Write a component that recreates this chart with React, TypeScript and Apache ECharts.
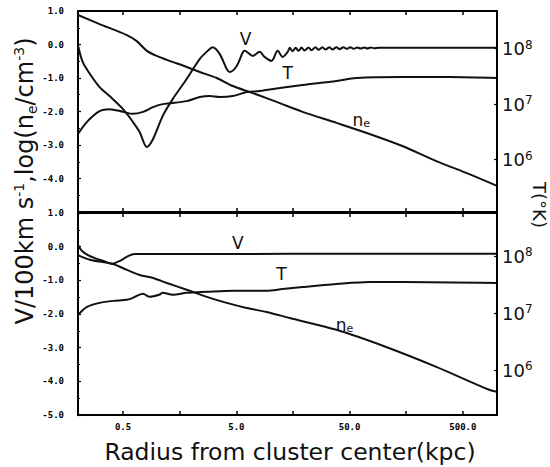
import React, { useEffect, useRef } from "react";
import * as echarts from "echarts";

// ---- axis definitions ----
const radiusRange = [0.2, 1000];
const radiusLabels = [0.5, 5, 50, 500];
const radiusTicks = [0.5, 1.58, 5, 15.8, 50, 158, 500];
const leftRange = [-5, 1];
const tempLogTicks = [6, 7, 8];
const tempLogRangeTop = [5.054, 8.676];
const tempLogRangeBottom = [5.216, 8.758];

// ---- top panel ----
const topVR = [0.2, 0.22, 0.255, 0.31, 0.38, 0.5, 0.61, 0.7, 0.81, 0.92, 1.12, 1.37, 1.82, 2.38, 2.79, 3.09, 3.56, 4.11, 4.37, 5.04, 5.69, 5.92, 6.97, 8.04, 8.87, 10.2, 11.6, 12.8, 14.2, 14.8, 15.7, 16.7, 17.7, 18.8, 20.0, 21.7, 23.0, 25.0, 26.6, 28.8, 30.6, 33.2, 35.3, 38.3, 40.7, 44.2, 46.9, 50.8, 54.1, 58.6, 62.3, 67.6, 71.8, 77, 83, 90, 1000];
const topVV = [-0.02, -0.52, -0.88, -1.27, -1.54, -1.93, -2.31, -2.61, -3.06, -2.82, -2.13, -1.63, -1.03, -0.43, -0.19, -0.08, -0.28, -0.73, -0.82, -0.64, -0.24, -0.19, -0.34, -0.22, -0.37, -0.49, -0.19, -0.37, -0.22, -0.1, -0.2, -0.1, -0.19, -0.09, -0.18, -0.09, -0.17, -0.08, -0.16, -0.08, -0.15, -0.08, -0.15, -0.08, -0.14, -0.08, -0.13, -0.08, -0.13, -0.09, -0.12, -0.09, -0.12, -0.09, -0.11, -0.1, -0.1];

const topTR = [0.2, 0.24, 0.31, 0.38, 0.5, 0.61, 0.75, 0.92, 1.12, 1.82, 2.38, 2.91, 3.56, 4.65, 6.17, 8.04, 12.1, 19.2, 38.3, 57.4, 146, 380, 1000];
const topTV = [-2.67, -2.31, -1.99, -1.93, -2.01, -2.07, -2.01, -1.87, -1.78, -1.69, -1.57, -1.54, -1.57, -1.54, -1.42, -1.39, -1.3, -1.21, -1.09, -1.0, -0.97, -0.97, -1.0];

const topNeR = [0.2, 0.31, 0.54, 0.66, 0.81, 0.99, 1.22, 1.82, 2.38, 3.36, 4.65, 6.56, 9.25, 12.1, 19.2, 38.3, 75, 146, 291, 569, 1000];
const topNeV = [0.88, 0.61, 0.28, 0.1, -0.19, -0.34, -0.46, -0.67, -0.82, -1.0, -1.24, -1.42, -1.6, -1.75, -2.01, -2.34, -2.67, -3.03, -3.48, -3.87, -4.22];

// ---- bottom panel ----
const botVR = [0.2, 0.217, 0.245, 0.282, 0.332, 0.398, 0.469, 0.552, 0.635, 1000];
const botVV = [0.05, -0.13, -0.25, -0.34, -0.42, -0.51, -0.42, -0.28, -0.22, -0.21];

const botTR = [0.2, 0.24, 0.31, 0.41, 0.54, 0.61, 0.75, 0.86, 1.04, 1.12, 1.37, 1.82, 2.74, 4.65, 9.25, 12.8, 19.2, 38.3, 75, 146, 1000];
const botTV = [-2.03, -1.79, -1.67, -1.61, -1.58, -1.52, -1.4, -1.49, -1.43, -1.37, -1.43, -1.37, -1.34, -1.31, -1.31, -1.26, -1.2, -1.11, -1.05, -1.05, -1.08];

const botNeR = [0.2, 0.255, 0.4, 0.54, 0.7, 0.92, 1.22, 1.82, 2.74, 4.11, 6.17, 9.25, 14.8, 38.3, 105, 291, 851, 1000];
const botNeV = [-0.25, -0.39, -0.51, -0.69, -0.84, -0.93, -1.08, -1.28, -1.49, -1.67, -1.82, -1.94, -2.12, -2.47, -2.98, -3.57, -4.25, -4.31];

// ---- curve labels [r, value] ----
const labelTopV = [6.04, 0.16];
const labelTopT = [14.2, -0.85];
const labelTopNe = [63.5, -2.25];
const labelBotV = [5.14, 0.11];
const labelBotT = [12.5, -0.81];
const labelBotNe = [45, -2.32];

const INK = "#111";
const TICK_FONT = "DejaVu Sans Mono";
const TEXT_FONT = "DejaVu Sans";

function pairs(r: number[], v: number[]) {
  return r.map((x, i) => [x, v[i]]);
}

function curveLabel(coord: number[], text: string) {
  return {
    symbol: "circle",
    symbolSize: 1,
    silent: true,
    itemStyle: { color: "rgba(0,0,0,0)" },
    label: {
      show: true,
      position: "inside",
      formatter: text,
      color: INK,
      fontFamily: TEXT_FONT,
      fontSize: 17,
      rich: {
        n: { fontSize: 17, fontFamily: TEXT_FONT, color: INK },
        e: { fontSize: 11, fontFamily: TEXT_FONT, color: INK, verticalAlign: "bottom", padding: [8, 0, 0, 0] },
      },
    },
    data: [{ coord }],
  };
}

function line(r: number[], v: number[], panel: number, lbl: number[], text: string) {
  return {
    type: "line",
    xAxisIndex: panel * 2,
    yAxisIndex: panel * 2,
    data: pairs(r, v),
    showSymbol: false,
    smooth: 0.3,
    lineStyle: { color: INK, width: 2 },
    markPoint: curveLabel(lbl, text),
    z: 3,
  };
}

function xAxis(gridIndex: number, position: string, showLabels: boolean) {
  return {
    type: "log",
    logBase: 10,
    gridIndex,
    position,
    min: radiusRange[0],
    max: radiusRange[1],
    axisLine: { show: false, onZero: false },
    splitLine: { show: false },
    minorTick: { show: false },
    axisTick: {
      show: true,
      inside: true,
      length: 4,
      customValues: radiusTicks,
      lineStyle: { color: "#000", width: 1.5 },
    },
    axisLabel: {
      show: showLabels,
      customValues: radiusLabels,
      formatter: (v: number) => Number(v).toFixed(1),
      margin: 7,
      fontFamily: TICK_FONT,
      fontWeight: "bold",
      fontSize: 9,
      color: "#000",
    },
  };
}

function leftAxis(gridIndex: number, hideBottom: boolean) {
  return {
    type: "value",
    gridIndex,
    position: "left",
    min: leftRange[0],
    max: leftRange[1],
    interval: 1,
    axisLine: { show: false, onZero: false },
    splitLine: { show: false },
    axisTick: { show: true, inside: true, length: 3, lineStyle: { color: "#000", width: 1.2 } },
    minorTick: { show: true, splitNumber: 2, length: 2, lineStyle: { color: "#000", width: 1 } },
    axisLabel: {
      margin: 14,
      fontFamily: TICK_FONT,
      fontWeight: "bold",
      fontSize: 9,
      color: "#000",
      formatter: (v: number) => (hideBottom && Math.abs(v - leftRange[0]) < 1e-9 ? "" : v.toFixed(1)),
    },
  };
}

function rightAxis(gridIndex: number, range: number[]) {
  return {
    type: "value",
    gridIndex,
    position: "right",
    min: range[0],
    max: range[1],
    axisLine: { show: false, onZero: false },
    splitLine: { show: false },
    axisTick: {
      show: true,
      inside: true,
      length: 3,
      customValues: tempLogTicks,
      lineStyle: { color: "#000", width: 1.2 },
    },
    axisLabel: {
      customValues: tempLogTicks,
      margin: 5,
      formatter: (v: number) => `{b|10}{s|${Math.round(v)}}`,
      rich: {
        b: { fontSize: 18, fontFamily: TEXT_FONT, color: INK, lineHeight: 20 },
        s: { fontSize: 12, fontFamily: TEXT_FONT, color: INK, verticalAlign: "top", lineHeight: 12 },
      },
    },
  };
}

export default function App() {
  const ref = useRef<HTMLDivElement>(null);

  useEffect(() => {
    if (!ref.current) return;
    const chart = echarts.init(ref.current, null, { renderer: "svg" });
    const option = {
      animation: false,
      backgroundColor: "#fff",
      grid: [
        { left: 78, top: 11, width: 419, height: 201, show: true, borderColor: "#000", borderWidth: 2, backgroundColor: "transparent" },
        { left: 78, top: 213, width: 419, height: 202, show: true, borderColor: "#000", borderWidth: 2, backgroundColor: "transparent" },
      ],
      xAxis: [xAxis(0, "bottom", false), xAxis(0, "top", false), xAxis(1, "bottom", true), xAxis(1, "top", false)],
      yAxis: [leftAxis(0, true), rightAxis(0, tempLogRangeTop), leftAxis(1, false), rightAxis(1, tempLogRangeBottom)],
      series: [
        line(topVR, topVV, 0, labelTopV, "V"),
        line(topTR, topTV, 0, labelTopT, "T"),
        line(topNeR, topNeV, 0, labelTopNe, "{n|n}{e|e}"),
        line(botVR, botVV, 1, labelBotV, "V"),
        line(botTR, botTV, 1, labelBotT, "T"),
        line(botNeR, botNeV, 1, labelBotNe, "{n|n}{e|e}"),
      ],
      graphic: [
        {
          type: "text",
          x: 25,
          y: 181,
          rotation: Math.PI / 2,
          style: {
            text: "{m|V/100km s}{u|-1}{m|,log(n}{d|e}{m|/cm}{u|-3}{m|)}",
            align: "center",
            verticalAlign: "middle",
            fill: INK,
            rich: {
              m: { fontSize: 24, fontFamily: TEXT_FONT, fill: INK, lineHeight: 27 },
              u: { fontSize: 14, fontFamily: TEXT_FONT, fill: INK, verticalAlign: "top", lineHeight: 14 },
              d: { fontSize: 14, fontFamily: TEXT_FONT, fill: INK, verticalAlign: "bottom", lineHeight: 14 },
            },
          },
        },
        {
          type: "text",
          x: 530,
          y: 205,
          rotation: -Math.PI / 2,
          style: {
            text: "T(°K)",
            align: "center",
            verticalAlign: "bottom",
            fill: INK,
            font: `18px ${TEXT_FONT}`,
          },
        },
        {
          type: "text",
          x: 290,
          y: 452,
          style: {
            text: "Radius from cluster center(kpc)",
            align: "center",
            verticalAlign: "middle",
            fill: INK,
            font: `23.5px ${TEXT_FONT}`,
          },
        },
      ],
    };
    chart.setOption(option as any);
    return () => chart.dispose();
  }, []);

  return <div ref={ref} style={{ width: 550, height: 467, position: "absolute", left: 0, top: 0 }} />;
}
